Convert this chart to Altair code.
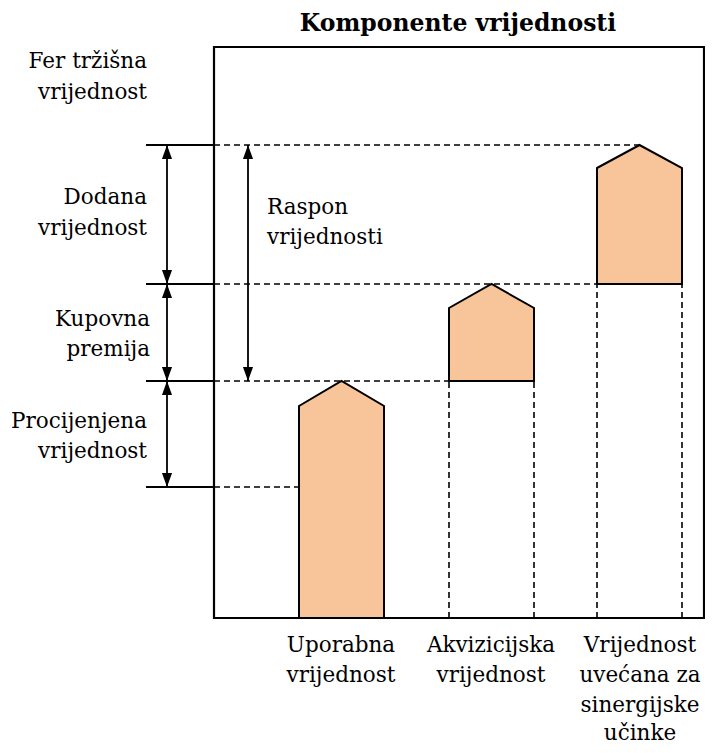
import altair as alt
import pandas as pd

# ---- data (value axis: height above the box bottom; x axis: horizontal position) ----
box_x = [221, 711]
box_y = [0, 571]

# value levels marked by horizontal lines
level_values = [473, 334, 237, 131]        # fer tržišna, akvizicijska, uporabna, procijenjena
level_dash_end = [647, 604, 456, 306]     # where the dashed guide of each level ends
tick_x = [153, 221]

# house-shaped components: left, right, bottom, shoulder, peak
comp_names = ["Uporabna", "Akvizicijska", "Sinergije"]
comp_left = [306, 456, 604]
comp_right = [391, 541, 689]
comp_bottom = [0, 237, 334]
comp_shoulder = [212, 310, 450]
comp_peak = [237, 334, 473]

# vertical dashed guides below floating components
vguide_x = [456, 541, 604, 689]
vguide_top = [237, 237, 334, 334]

# double arrows: x, from, to
arrow_x = [174, 174, 174, 255]
arrow_from = [473, 334, 237, 473]
arrow_to = [334, 237, 131, 237]

# text
left_lines = ["Fer tržišna", "vrijednost", "Dodana", "vrijednost",
              "Kupovna", "premija", "Procijenjena", "vrijednost"]
left_y = [550, 519, 414, 383, 292, 262, 190, 160]
left_x = [154, 154, 154, 154, 157, 157, 154, 154]

raspon_lines = ["Raspon", "vrijednosti"]
raspon_y = [404, 374]
raspon_x = 274

bottom_lines = ["Uporabna", "vrijednost", "Akvizicijska", "vrijednost",
                "Vrijednost", "uvećana za", "sinergijske", "učinke"]
bottom_x = [348, 348, 498, 498, 647, 647, 647, 647]
bottom_y = [-34, -64, -94, -122]
bottom_y = [-34, -64, -34, -64, -34, -64, -94, -122]

title_text = "Komponente vrijednosti"
title_x = 465
title_y = 587

FILL = "#F8C49A"
FONT = "DejaVu Serif"
FS = 21.5
TFS = 23.5

xs = alt.Scale(domain=[15, 712], nice=False, zero=False)
ys = alt.Scale(domain=[-127, 610], nice=False, zero=False)


def X(f="x"):
    return alt.X(f"{f}:Q", scale=xs, axis=None)


def Y(f="y"):
    return alt.Y(f"{f}:Q", scale=ys, axis=None)


# box
box_df = pd.DataFrame({"x": [box_x[0]], "x2": [box_x[1]], "y": [box_y[0]], "y2": [box_y[1]]})
box = alt.Chart(box_df).mark_rect(fill="white", fillOpacity=0, stroke="black", strokeWidth=2.2).encode(
    x=X("x"), x2="x2", y=Y("y"), y2="y2")

# solid ticks left of box
tick_df = pd.DataFrame({"x": [tick_x[0]] * 4, "x2": [tick_x[1]] * 4, "y": level_values})
ticks = alt.Chart(tick_df).mark_rule(color="black", strokeWidth=1.8).encode(x=X("x"), x2="x2", y=Y("y"))

# dashed horizontal guides
hd_df = pd.DataFrame({"x": [box_x[0]] * 4, "x2": level_dash_end, "y": level_values})
hdash = alt.Chart(hd_df).mark_rule(color="black", strokeWidth=1.6, strokeDash=[6, 4]).encode(
    x=X("x"), x2="x2", y=Y("y"))

# dashed vertical guides
vd_df = pd.DataFrame({"x": vguide_x, "y": [0] * 4, "y2": vguide_top})
vdash = alt.Chart(vd_df).mark_rule(color="black", strokeWidth=1.6, strokeDash=[6, 4]).encode(
    x=X("x"), y=Y("y"), y2="y2")

# houses
rows = []
for n, l, r, b, s, p in zip(comp_names, comp_left, comp_right, comp_bottom, comp_shoulder, comp_peak):
    rows.append({"c": n, "x": l, "top": s, "bot": b})
    rows.append({"c": n, "x": (l + r) / 2, "top": p, "bot": b})
    rows.append({"c": n, "x": r, "top": s, "bot": b})
house_df = pd.DataFrame(rows)
houses = alt.Chart(house_df).mark_area(fill=FILL, stroke="black", strokeWidth=2, strokeJoin="miter",
                                       opacity=1).encode(
    x=X("x"), y=Y("top"), y2="bot", detail="c:N")

# arrow shafts
shaft_df = pd.DataFrame({"x": arrow_x, "y": arrow_from, "y2": arrow_to})
shafts = alt.Chart(shaft_df).mark_rule(color="black", strokeWidth=1.8).encode(x=X("x"), y=Y("y"), y2="y2")

# arrow heads
up_df = pd.DataFrame({"x": arrow_x, "y": arrow_from})
down_df = pd.DataFrame({"x": arrow_x, "y": arrow_to})
UP = "M0,0L-0.36,1L0.36,1Z"
DOWN = "M0,0L-0.36,-1L0.36,-1Z"
heads_up = alt.Chart(up_df).mark_point(shape=UP, filled=True, size=784, color="black", opacity=1,
                                       strokeWidth=0).encode(x=X("x"), y=Y("y"))
heads_down = alt.Chart(down_df).mark_point(shape=DOWN, filled=True, size=784, color="black", opacity=1,
                                           strokeWidth=0).encode(x=X("x"), y=Y("y"))

# texts
left_df = pd.DataFrame({"t": left_lines, "x": left_x, "y": left_y})
left_txt = alt.Chart(left_df).mark_text(font=FONT, fontSize=FS, align="right", baseline="alphabetic",
                                        color="black").encode(x=X("x"), y=Y("y"), text="t:N")

rasp_df = pd.DataFrame({"t": raspon_lines, "x": [raspon_x] * 2, "y": raspon_y})
rasp_txt = alt.Chart(rasp_df).mark_text(font=FONT, fontSize=FS, align="left", baseline="alphabetic",
                                        color="black").encode(x=X("x"), y=Y("y"), text="t:N")

bot_df = pd.DataFrame({"t": bottom_lines, "x": bottom_x, "y": bottom_y})
bot_txt = alt.Chart(bot_df).mark_text(font=FONT, fontSize=FS, align="center", baseline="alphabetic",
                                      color="black").encode(x=X("x"), y=Y("y"), text="t:N")

title_df = pd.DataFrame({"t": [title_text], "x": [title_x], "y": [title_y]})
title_txt = alt.Chart(title_df).mark_text(font=FONT, fontSize=TFS, fontWeight="bold", align="center",
                                          baseline="alphabetic", color="black").encode(
    x=X("x"), y=Y("y"), text="t:N")

chart = alt.layer(
    hdash, vdash, ticks, box, houses, shafts, heads_up, heads_down,
    left_txt, rasp_txt, bot_txt, title_txt
).properties(
    width=697, height=737, padding=0, autosize=alt.AutoSizeParams(type="none"),
    background="white"
).configure_view(stroke=None)

chart.save("out.html", embed_options={"renderer": "svg", "actions": False})
